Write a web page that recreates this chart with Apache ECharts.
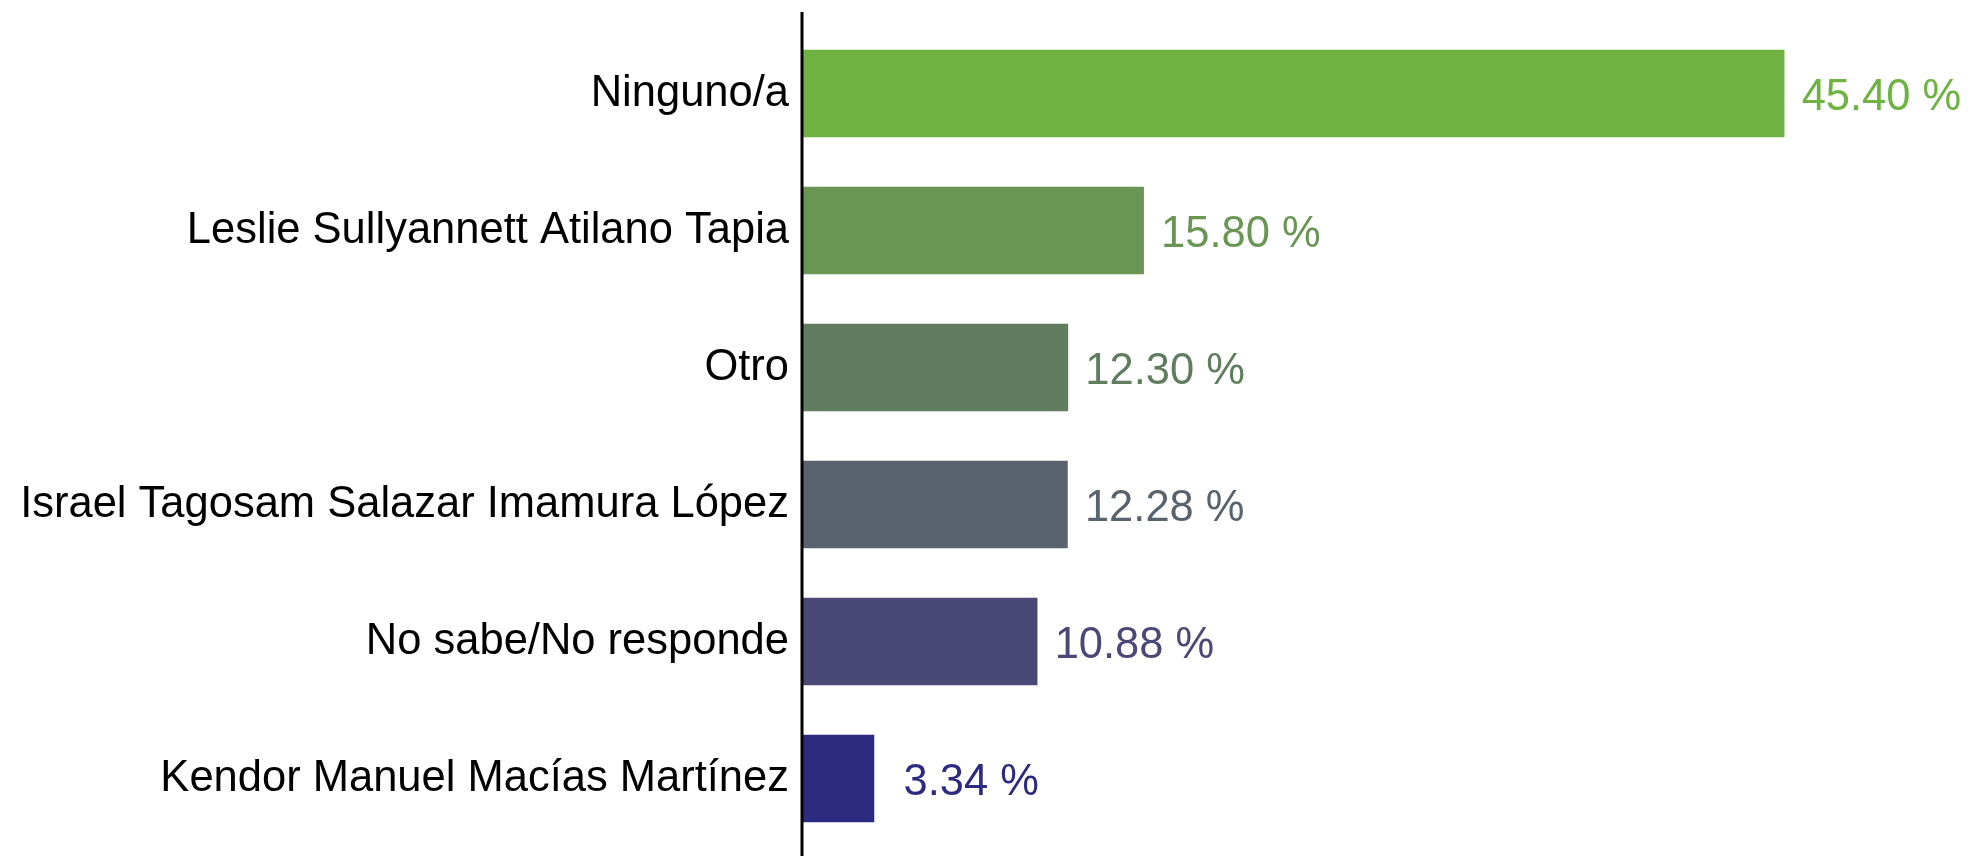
<!doctype html>
<html>
    <head>
        <meta charset="utf-8">
        <title>Preferencia</title>
        <style>
            html, body { margin: 0; padding: 0; background: #fff; }
            #main { width: 1970px; height: 856px; }
        </style>
    </head>
    <body>
        <div id="main"></div>
        <script src="https://cdn.jsdelivr.net/npm/echarts@6/dist/echarts.min.js"></script>
        <script>
            var categories = [
                'Ninguno/a',
                'Leslie Sullyannett Atilano Tapia',
                'Otro',
                'Israel Tagosam Salazar Imamura López',
                'No sabe/No responde',
                'Kendor Manuel Macías Martínez'
            ];
            var values = [45.40, 15.80, 12.30, 12.28, 10.88, 3.34];
            var colors = ['#6eb241', '#6a9654', '#617d5f', '#59636e', '#494876', '#2d2b7f'];

            var chart = echarts.init(document.getElementById('main'));

            var data = values.map(function (v, i) {
                return {
                    value: v,
                    itemStyle: { color: colors[i] },
                    label: { color: colors[i] }
                };
            });

            chart.setOption({
                animation: false,
                textStyle: { fontFamily: 'Liberation Sans, Arial, sans-serif' },
                grid: {
                    left: 802,
                    right: 86,
                    top: 25,
                    bottom: 9
                },
                xAxis: {
                    type: 'value',
                    min: 0,
                    max: 50,
                    show: false
                },
                yAxis: {
                    type: 'category',
                    inverse: true,
                    data: categories,
                    axisLine: { show: false },
                    axisTick: { show: false },
                    axisLabel: {
                        color: '#000',
                        fontSize: 43.5,
                        margin: 13,
                        padding: [8, 0, 0, 0]
                    }
                },
                series: [{
                    type: 'bar',
                    barWidth: '64%',
                    data: data,
                    label: {
                        show: true,
                        position: 'right',
                        distance: 97,
                        align: 'center',
                        offset: [0, 4],
                        fontSize: 43.5,
                        formatter: function (p) {
                            return p.value.toFixed(2) + ' %';
                        }
                    }
                }]
            });

            // the vertical axis line runs the full height, past the bands
            var x0 = chart.convertToPixel({ gridIndex: 0 }, [0, 0])[0];
            chart.setOption({
                graphic: [{
                    type: 'line',
                    shape: { x1: x0, y1: 12, x2: x0, y2: 856 },
                    style: { stroke: '#000', lineWidth: 3 },
                    z: 10
                }]
            });

            window.addEventListener('resize', function () {
                chart.resize();
            });
        </script>
    </body>
</html>
